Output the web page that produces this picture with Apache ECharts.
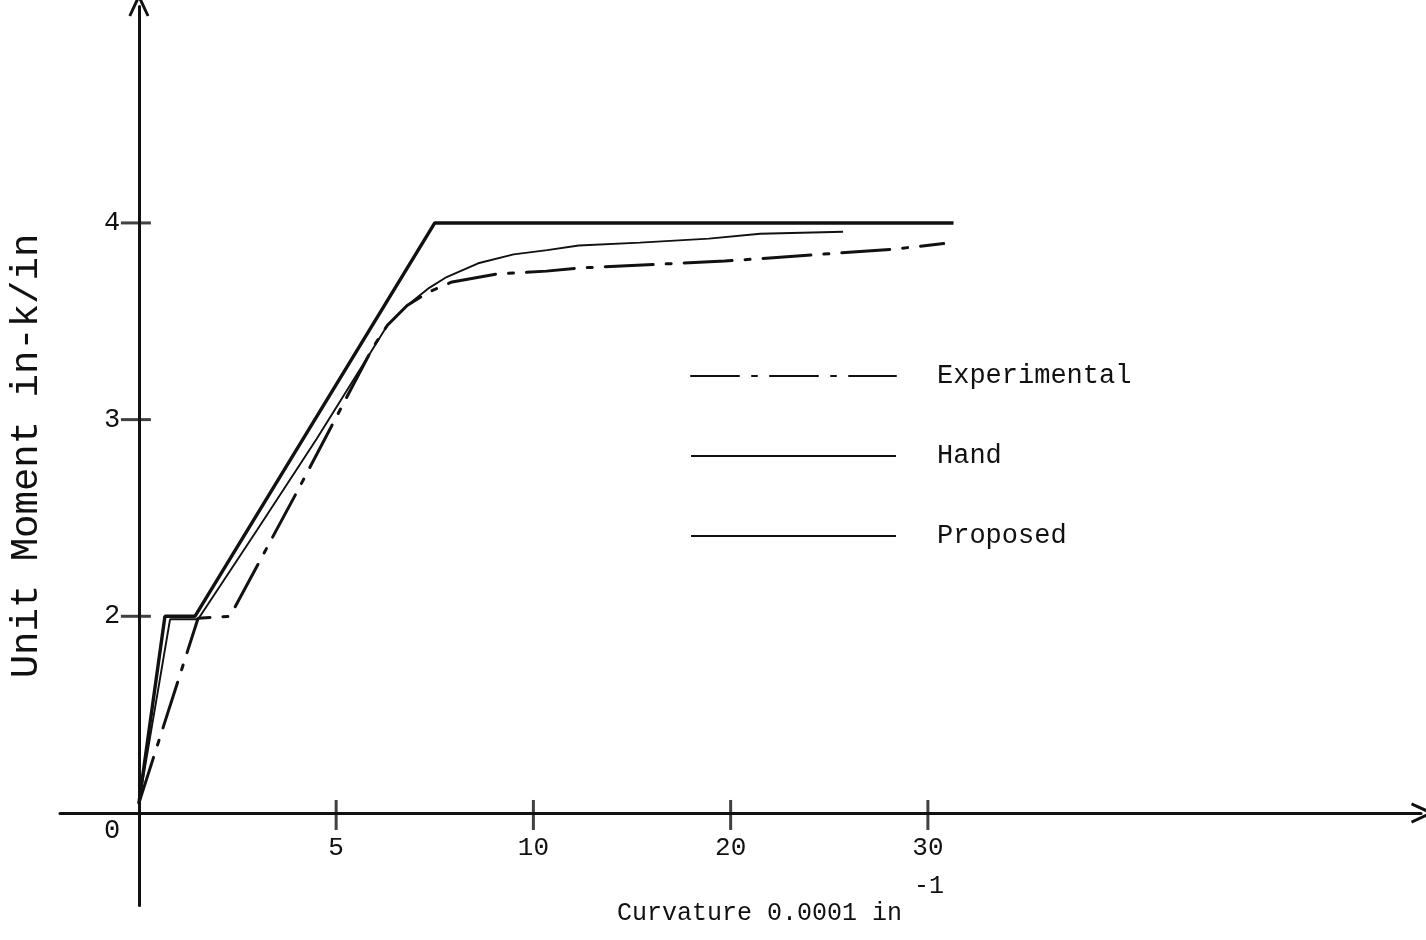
<!DOCTYPE html>
<html>
<head>
<meta charset="utf-8">
<script src="https://cdn.jsdelivr.net/npm/echarts@6/dist/echarts.min.js"></script>
<style>
html,body{margin:0;padding:0;background:#fff;}
#chart{width:1426px;height:940px;}
</style>
</head>
<body>
<div id="chart"></div>
<script>
// ---- data (curvature in 0.0001 in^-1, unit moment in-k/in) ----
const handX = [0, 0.66, 1.42, 7.5, 31.3];
const handY = [0.1, 2.0, 2.0, 4.0, 4.0];

const propX = [0, 0.79, 1.5, 3.0, 4.5, 5.9, 6.3, 6.8, 7.36, 7.8, 8.6, 9.5, 10.7, 12.3, 15.4, 18.9, 21.5, 25.7];
const propY = [0.1, 1.97, 1.97, 2.44, 2.90, 3.35, 3.48, 3.58, 3.67, 3.725, 3.795, 3.84, 3.862, 3.885, 3.90, 3.92, 3.945, 3.955];

const expX = [0, 1.5, 2.31, 4.0, 5.94, 6.3, 6.8, 7.36, 7.94, 9.06, 10.66, 12.34, 19.7, 24.1, 28.3, 30.8];
const expY = [0.1, 1.98, 2.0, 2.63, 3.37, 3.48, 3.58, 3.65, 3.70, 3.74, 3.755, 3.771, 3.806, 3.837, 3.867, 3.895];

const xTickValues = [5, 10, 20, 30];
const yTickValues = [2, 3, 4];
const seriesNames = ['Experimental', 'Hand', 'Proposed'];

// ---- broken-scale mapping used by the original drawing ----
// x: 0..10 at full scale, 10..30 at half scale; y: 0..2 at half scale, above 2 at full scale
function posX(x){ return x <= 10 ? x : 10 + (x - 10) / 2; }
function posY(y){ return y <= 2 ? y / 2 : y - 1; }
function invX(p){ return p <= 10 ? p : 10 + (p - 10) * 2; }
function invY(p){ return p <= 1 ? p * 2 : p + 1; }
function pts(xs, ys){ return xs.map((x, i) => [posX(x), posY(ys[i])]); }

const FONT = '"Liberation Mono", "DejaVu Sans Mono", monospace';
const INK = '#111';
const chevron = 'path://M0,22 L10,0 L20,22 L17.5,23 L10,7 L2.5,23 Z';

const chart = echarts.init(document.getElementById('chart'));
chart.setOption({
  animation: false,
  backgroundColor: '#fff',
  grid: { left: 60, right: 5, top: 6.6, bottom: 34.6, containLabel: false, outerBoundsMode: 'none' },
  legend: {
    data: seriesNames,
    orient: 'vertical',
    left: 685,
    top: 356,
    itemWidth: 205,
    itemHeight: 14,
    itemGap: 50,
    itemStyle: { opacity: 0 },
    textStyle: { fontFamily: FONT, fontSize: 27, color: INK, padding: [0, 0, 0, 36], lineHeight: 30 },
    selectedMode: false
  },
  xAxis: {
    type: 'value',
    min: -2,
    max: 32.5,
    axisLine: { onZero: true, symbol: ['none', chevron], symbolSize: [22, 24], symbolOffset: [0, 2], lineStyle: { color: INK, width: 3 } },
    axisTick: { show: false },
    splitLine: { show: false },
    axisLabel: {
      inside: true,
      customValues: xTickValues.map(posX),
      formatter: v => String(Math.round(invX(v))),
      fontFamily: FONT, fontSize: 26, color: INK, margin: 44
    },
    name: '{m|Curvature 0.0001 in}{s|-1}',
    nameLocation: 'middle',
    nameGap: -32,
    nameTextStyle: {
      padding: [0, 0, 0, 80],
      rich: {
        m: { fontFamily: FONT, fontSize: 25, color: INK, lineHeight: 52, verticalAlign: 'bottom' },
        s: { fontFamily: FONT, fontSize: 25, color: INK, lineHeight: 20, verticalAlign: 'top', padding: [0, 0, 0, 12] }
      }
    }
  },
  yAxis: {
    type: 'value',
    min: -0.47,
    max: 4.1,
    axisLine: { onZero: true, symbol: ['none', chevron], symbolSize: [22, 24], symbolOffset: [0, 2], lineStyle: { color: INK, width: 3 } },
    axisTick: { show: false },
    splitLine: { show: false },
    axisLabel: {
      inside: true,
      customValues: [0].concat(yTickValues.map(posY)),
      formatter: v => v === 0 ? '{z|0}' : String(Math.round(invY(v))),
      fontFamily: FONT, fontSize: 27, color: INK, margin: 44,
      rich: { z: { fontFamily: FONT, fontSize: 27, color: INK, padding: [36, 0, 0, 0] } }
    },
    name: 'Unit Moment in-k/in',
    nameLocation: 'middle',
    nameRotate: 90,
    nameGap: 14,
    nameTextStyle: { fontFamily: FONT, fontSize: 39, color: INK }
  },
  series: [
    {
      name: 'Experimental', type: 'line', data: pts(expX, expY),
      symbol: 'none', showSymbol: false, z: 3,
      lineStyle: { color: INK, width: 3, type: [48, 13, 5, 13], cap: 'round' },
      itemStyle: { color: INK }
    },
    {
      name: 'Hand', type: 'line', data: pts(handX, handY),
      symbol: 'none', showSymbol: false, z: 3,
      lineStyle: { color: INK, width: 3.4 },
      itemStyle: { color: INK }
    },
    {
      name: 'Proposed', type: 'line', data: pts(propX, propY),
      symbol: 'none', showSymbol: false, z: 3,
      lineStyle: { color: INK, width: 1.9 },
      itemStyle: { color: INK }
    },
    {
      name: 'xticks', type: 'scatter', data: xTickValues.map(v => [posX(v), 0]),
      symbol: 'rect', symbolSize: [3, 30], symbolOffset: [0, 2],
      itemStyle: { color: INK }, silent: true, z: 4
    },
    {
      name: 'yticks', type: 'scatter', data: yTickValues.map(v => [0, posY(v)]),
      symbol: 'rect', symbolSize: [30, 3], symbolOffset: [-3, 0],
      itemStyle: { color: INK }, silent: true, z: 4
    }
  ]
});
</script>
</body>
</html>
